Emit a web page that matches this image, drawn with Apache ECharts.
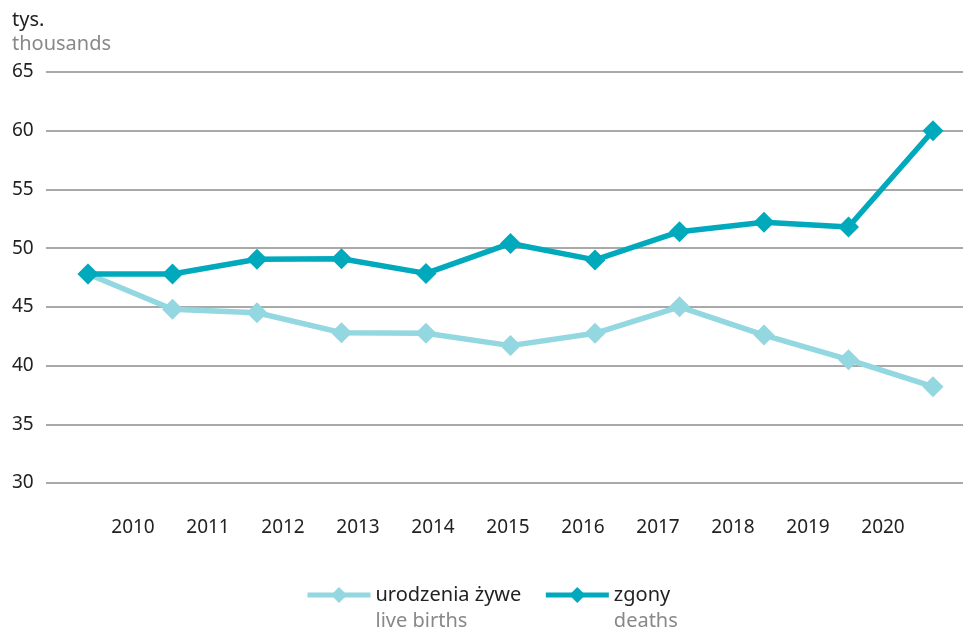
<!DOCTYPE html>
<html>
<head>
<meta charset="utf-8">
<style>
  html, body { margin: 0; padding: 0; background: #fff; }
  #chart { width: 963px; height: 628px; }
</style>
<script src="https://cdn.jsdelivr.net/npm/echarts@6/dist/echarts.min.js"></script>
</head>
<body>
<div id="chart"></div>
<script>
// data
var years = ['2010', '2011', '2012', '2013', '2014', '2015', '2016', '2017', '2018', '2019', '2020'];
var liveBirths = [47.8, 44.8, 44.5, 42.8, 42.75, 41.7, 42.75, 45.0, 42.6, 40.5, 38.2];
var deaths = [47.8, 47.8, 49.05, 49.1, 47.85, 50.4, 49.0, 51.4, 52.2, 51.8, 60.0];
var seriesNames = ['urodzenia żywe', 'zgony'];
var seriesNamesEn = ['live births', 'deaths'];

var font = 'Noto Sans';
var birthsColor = '#93d7e0';
var deathsColor = '#00a9bb';

var chart = echarts.init(document.getElementById('chart'));

var option = {
  backgroundColor: '#fff',
  textStyle: { fontFamily: font },
  animation: false,
  title: {
    left: 12,
    top: 8,
    padding: 0,
    text: '{a|tys.}\n{b|thousands}',
    textStyle: {
      fontWeight: 'normal',
      rich: {
        a: { fontFamily: font, fontSize: 20, fontWeight: 'normal', color: '#222', lineHeight: 24 },
        b: { fontFamily: font, fontSize: 20, fontWeight: 'normal', color: '#888', lineHeight: 24 }
      }
    }
  },
  legend: {
    left: 305,
    top: 559,
    padding: 0,
    itemWidth: 63,
    itemHeight: 20,
    itemGap: 22,
    data: seriesNames,
    formatter: function (name) {
      var i = seriesNames.indexOf(name);
      return '{s| }\n{a|' + name + '}\n{b|' + seriesNamesEn[i] + '}';
    },
    textStyle: {
      rich: {
        s: { fontSize: 20, lineHeight: 26 },
        a: { fontFamily: font, fontSize: 20, color: '#222', lineHeight: 26 },
        b: { fontFamily: font, fontSize: 20, color: '#888', lineHeight: 26 }
      }
    },
    lineStyle: { width: 5 }
  },
  grid: [
    // gridlines and y labels
    { left: 46, right: 0, top: 72, bottom: 145 },
    // data
    { left: 88, right: 30, top: 72, bottom: 145 },
    // year labels
    { left: 133, right: 80, top: 72, bottom: 145 }
  ],
  xAxis: [
    { gridIndex: 0, type: 'category', data: years, show: false },
    { gridIndex: 1, type: 'category', data: years, boundaryGap: false, show: false },
    {
      gridIndex: 2, type: 'category', data: years, boundaryGap: false,
      axisLine: { show: false }, axisTick: { show: false },
      axisLabel: { margin: 35, fontFamily: font, fontSize: 19, color: '#222' }
    }
  ],
  yAxis: [
    {
      gridIndex: 0, type: 'value', min: 30, max: 65, interval: 5,
      axisLine: { show: false }, axisTick: { show: false },
      axisLabel: { align: 'left', margin: 34, fontFamily: font, fontSize: 19, color: '#222' },
      splitLine: { lineStyle: { color: '#8c8c8c', width: 1.5 } }
    },
    { gridIndex: 1, type: 'value', min: 30, max: 65, show: false, splitLine: { show: false } },
    { gridIndex: 2, type: 'value', min: 30, max: 65, show: false, splitLine: { show: false } }
  ],
  series: [
    {
      name: seriesNames[0],
      type: 'line',
      xAxisIndex: 1,
      yAxisIndex: 1,
      data: liveBirths,
      symbol: 'diamond',
      symbolSize: 21,
      color: birthsColor,
      lineStyle: { width: 5.5, color: birthsColor },
      itemStyle: { color: birthsColor },
      z: 2
    },
    {
      name: seriesNames[1],
      type: 'line',
      xAxisIndex: 1,
      yAxisIndex: 1,
      data: deaths,
      symbol: 'diamond',
      symbolSize: 21,
      color: deathsColor,
      lineStyle: { width: 5.5, color: deathsColor },
      itemStyle: { color: deathsColor },
      z: 3
    }
  ]
};

chart.setOption(option);
</script>
</body>
</html>
